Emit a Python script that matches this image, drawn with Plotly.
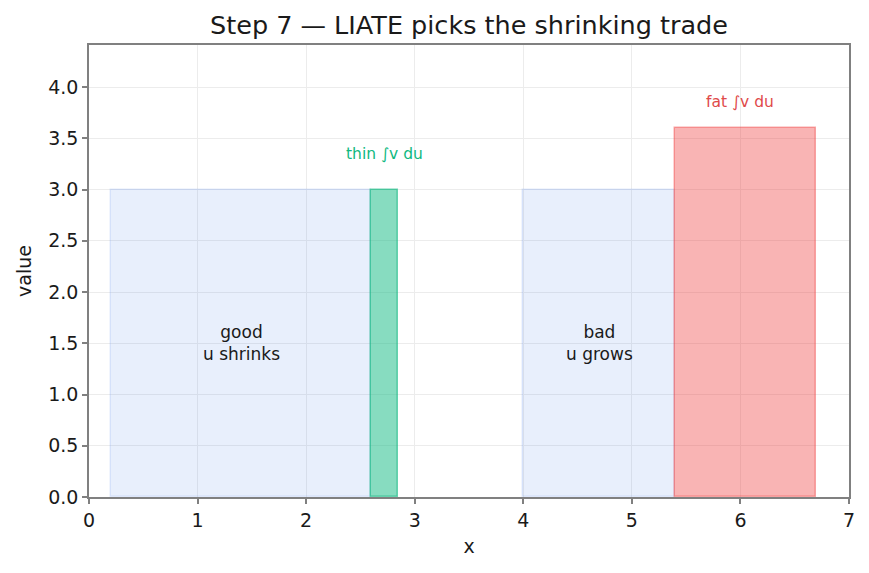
import plotly.graph_objects as go

# data
box_x0 = [0.2, 2.6, 4.0, 5.4]
box_x1 = [2.6, 2.85, 5.4, 6.7]
box_h = [3.0, 3.0, 3.0, 3.6]
box_fill = ["rgba(99,146,238,0.15)", "rgba(16,185,129,0.5)", "rgba(99,146,238,0.15)", "rgba(239,68,68,0.4)"]
box_line = ["rgba(99,146,238,0.18)", "rgba(16,185,129,0.6)", "rgba(99,146,238,0.18)", "rgba(239,68,68,0.45)"]

ann_x = [1.4, 4.7, 2.72, 6.0]
ann_y = [1.5, 1.5, 3.35, 3.85]
ann_text = ["good<br>u shrinks", "bad<br>u grows", "thin ∫v du", "fat ∫v du"]
ann_color = ["#1a1a1a", "#1a1a1a", "#10b981", "#e04a4a"]
ann_size = [17, 17, 15.5, 15.5]

fig = go.Figure()
for x0, x1, h, fc, lc in zip(box_x0, box_x1, box_h, box_fill, box_line):
    fig.add_trace(go.Bar(x=[(x0 + x1) / 2], y=[h], width=[x1 - x0],
                         marker=dict(color=fc, line=dict(color=lc, width=1.5)),
                         showlegend=False, hoverinfo="skip"))

for x, y, t, c, s in zip(ann_x, ann_y, ann_text, ann_color, ann_size):
    fig.add_annotation(x=x, y=y, text=t, showarrow=False,
                       font=dict(color=c, size=s, family="DejaVu Sans"))

axis_common = dict(showline=True, linecolor="#808080", linewidth=1.5, mirror=True,
                   showgrid=True, gridcolor="#ececec", gridwidth=1,
                   ticks="outside", ticklen=5, tickcolor="#808080", tickwidth=1.5,
                   tickfont=dict(size=19, color="#1a1a1a", family="DejaVu Sans"),
                   zeroline=False)

fig.update_layout(
    width=869, height=573,
    margin=dict(l=89, r=20, t=45, b=76),
    plot_bgcolor="white", paper_bgcolor="white",
    barmode="overlay", bargap=0,
    font=dict(family="DejaVu Sans", color="#1a1a1a"),
    title=dict(text="Step 7 — LIATE picks the shrinking trade", x=0.5, xref="paper",
               xanchor="center", y=0.957, yanchor="middle",
               font=dict(size=25.5, family="DejaVu Sans", color="#1a1a1a")),
    xaxis=dict(range=[0, 7], tickmode="linear", tick0=0, dtick=1,
               title=dict(text="x", font=dict(size=19), standoff=10), **axis_common),
    yaxis=dict(range=[0, 4.41], tickmode="linear", tick0=0, dtick=0.5, tickformat=".1f",
               title=dict(text="value", font=dict(size=19), standoff=12), **axis_common),
)

fig.write_html("out.html")
